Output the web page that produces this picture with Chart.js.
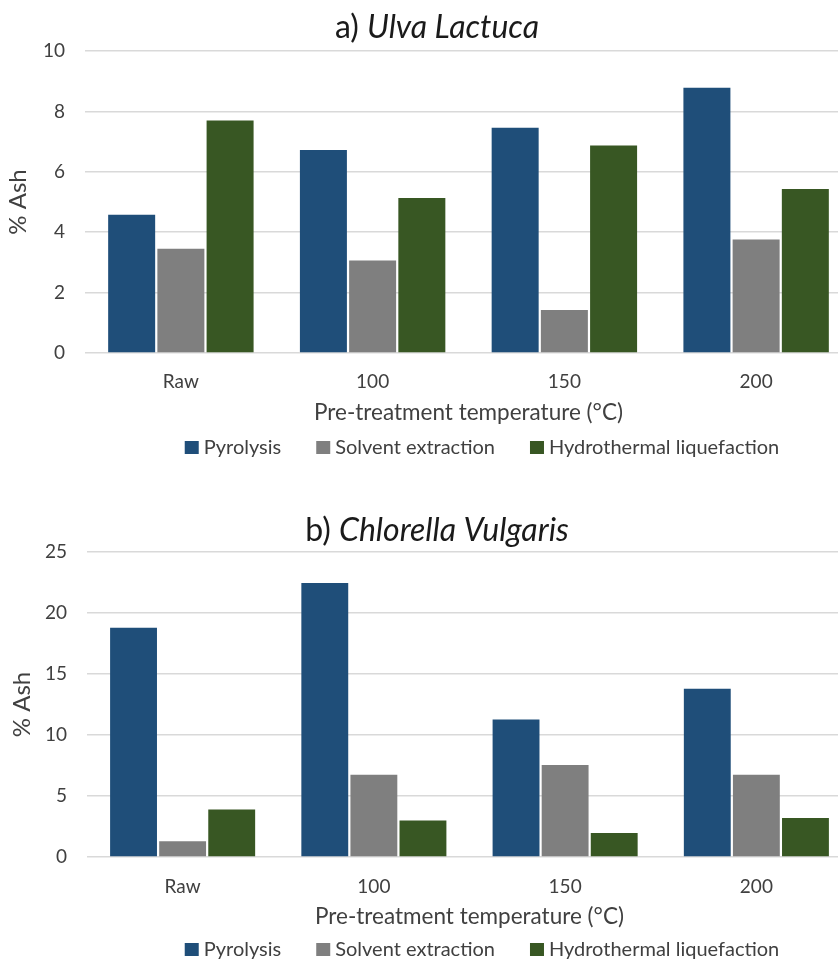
<!DOCTYPE html>
<html>
<head>
<meta charset="utf-8">
<script src="https://cdn.jsdelivr.net/npm/chart.js@4/dist/chart.umd.min.js"></script>
<style>
  html, body { margin: 0; padding: 0; background: #fff; overflow: hidden; width: 838px; height: 959px; }
  .panel { position: absolute; left: 0; width: 852px; }
  #panelA { top: 0; height: 480px; }
  #panelB { top: 480px; height: 500px; }
</style>
</head>
<body>
<div class="panel" id="panelA"><canvas id="chartA"></canvas></div>
<div class="panel" id="panelB"><canvas id="chartB"></canvas></div>
<script>
// Pre-treatment temperatures on the category axis
const categories = ['Raw', '100', '150', '200'];
const seriesNames = ['Pyrolysis', 'Solvent extraction', 'Hydrothermal liquefaction'];

// a) Ulva Lactuca, % ash
const ulvaPyrolysis = [4.58, 6.72, 7.46, 8.78];
const ulvaSolvent   = [3.45, 3.06, 1.42, 3.76];
const ulvaHTL       = [7.70, 5.13, 6.87, 5.43];
const ulvaTicks     = [0, 2, 4, 6, 8, 10];

// b) Chlorella Vulgaris, % ash
const chlorellaPyrolysis = [18.80, 22.45, 11.28, 13.80];
const chlorellaSolvent   = [1.30, 6.75, 7.55, 6.75];
const chlorellaHTL       = [3.90, 3.00, 1.97, 3.20];
const chlorellaTicks     = [0, 5, 10, 15, 20, 25];

const seriesColors = ['#1F4E79', '#7F7F7F', '#385723'];
const FONT = 'Lato, "Open Sans", sans-serif';
const TEXT = '#404040';

// Draws the mixed-style heading and the legend row under the axis title
const headerAndLegend = {
  id: 'headerAndLegend',
  afterDraw(chart, args, opts) {
    const ctx = chart.ctx;
    ctx.save();
    // heading: plain prefix + italic species name
    ctx.textBaseline = 'middle';
    ctx.fillStyle = '#1a1a1a';
    const plainFont = `400 ${opts.titleSize}px ${FONT}`;
    const italicFont = `italic 400 ${opts.titleSize}px ${FONT}`;
    ctx.font = plainFont;
    const w1 = ctx.measureText(opts.prefix).width;
    ctx.font = italicFont;
    const w2 = ctx.measureText(opts.species).width;
    const x = opts.titleX - (w1 + w2) / 2;
    ctx.textAlign = 'left';
    ctx.font = plainFont;
    ctx.fillText(opts.prefix, x, opts.titleY);
    ctx.font = italicFont;
    ctx.fillText(opts.species, x + w1, opts.titleY);

    // legend
    ctx.font = `400 ${opts.legendSize}px ${FONT}`;
    const box = 14, boxGap = 5, itemGap = 35;
    const items = chart.data.datasets.map(d => ({ label: d.label, color: d.backgroundColor, w: ctx.measureText(d.label).width }));
    const total = items.reduce((s, it) => s + box + boxGap + it.w, 0) + itemGap * (items.length - 1);
    let lx = opts.legendX - total / 2;
    items.forEach(it => {
      ctx.fillStyle = it.color;
      ctx.fillRect(lx, opts.legendY - box / 2, box, box - 1);
      ctx.fillStyle = TEXT;
      ctx.fillText(it.label, lx + box + boxGap, opts.legendY);
      lx += box + boxGap + it.w + itemGap;
    });
    ctx.restore();
  }
};

function buildChart(canvasId, values, ticks, layout) {
  return new Chart(document.getElementById(canvasId), {
    type: 'bar',
    data: {
      labels: categories,
      datasets: seriesNames.map((name, i) => ({
        label: name,
        data: values[i],
        backgroundColor: seriesColors[i],
        borderWidth: 0,
        categoryPercentage: 0.77,
        barPercentage: 0.955
      }))
    },
    options: {
      responsive: true,
      maintainAspectRatio: false,
      animation: false,
      layout: { padding: { top: layout.plotTop, bottom: layout.padBottom, left: 0, right: 0 } },
      plugins: {
        legend: { display: false },
        title: { display: false },
        tooltip: { enabled: false },
        headerAndLegend: layout.header
      },
      scales: {
        x: {
          grid: { display: false, drawTicks: false },
          border: { display: false },
          ticks: { color: TEXT, font: { family: FONT, size: 19 }, padding: layout.xTickPad },
          title: {
            display: true,
            text: 'Pre-treatment temperature (°C)',
            color: TEXT,
            font: { family: FONT, size: 22.5 },
            padding: { top: 0, bottom: 4 }
          },
          afterFit(scale) { scale.height = layout.xAxisH; }
        },
        y: {
          min: ticks[0],
          max: ticks[ticks.length - 1],
          ticks: { stepSize: ticks[1] - ticks[0], color: TEXT, font: { family: FONT, size: 19 }, padding: 20 },
          grid: { color: '#D9D9D9', lineWidth: 1.5, drawTicks: false },
          border: { display: false },
          title: {
            display: true,
            text: '% Ash',
            color: TEXT,
            font: { family: FONT, size: 24 },
            padding: { top: layout.yTitlePad, bottom: 0 }
          },
          afterFit(scale) { scale.width = layout.yAxisW; }
        }
      }
    },
    plugins: [headerAndLegend]
  });
}

buildChart('chartA', [ulvaPyrolysis, ulvaSolvent, ulvaHTL], ulvaTicks, {
  plotTop: 51, padBottom: 50, xAxisH: 77, xTickPad: 17, yAxisW: 85, yTitlePad: 4,
  header: { prefix: 'a) ', species: 'Ulva Lactuca', titleSize: 32, titleX: 437, titleY: 28,
            legendSize: 20, legendX: 482, legendY: 448 }
});

buildChart('chartB', [chlorellaPyrolysis, chlorellaSolvent, chlorellaHTL], chlorellaTicks, {
  plotTop: 72, padBottom: 46, xAxisH: 77, xTickPad: 18, yAxisW: 87, yTitlePad: 8,
  header: { prefix: 'b) ', species: 'Chlorella Vulgaris', titleSize: 32, titleX: 437, titleY: 51,
            legendSize: 20, legendX: 482, legendY: 470 }
});
</script>
</body>
</html>
